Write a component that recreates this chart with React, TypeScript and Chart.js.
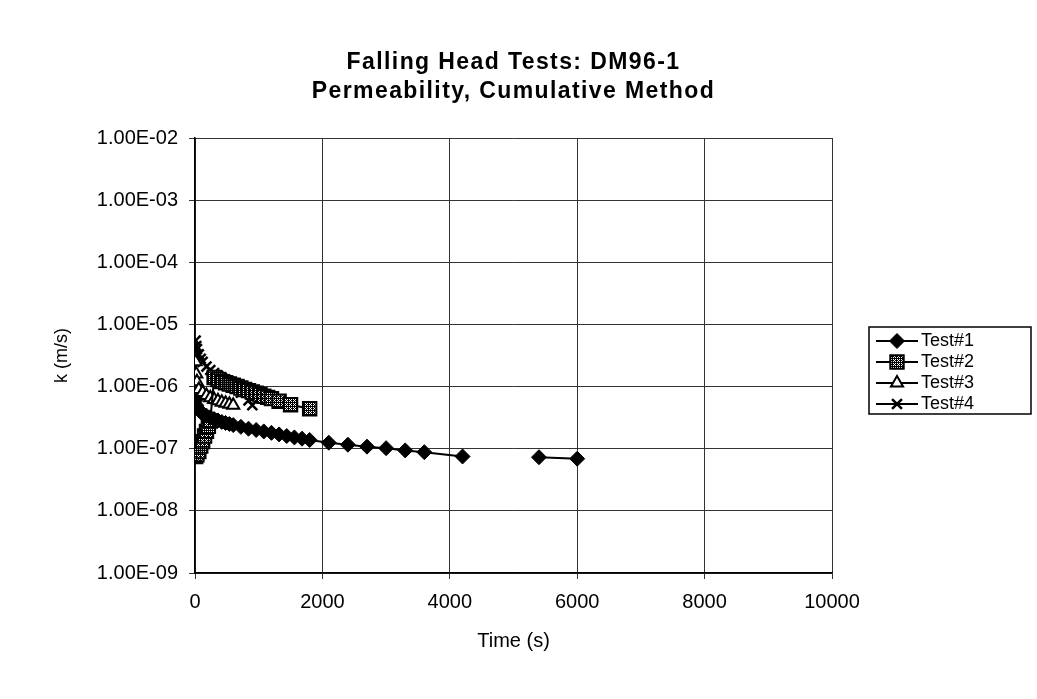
import React, { useEffect, useRef } from 'react';
import { Chart, registerables } from 'chart.js';

Chart.register(...registerables);

const TITLE_LINES = ['Falling Head Tests: DM96-1', 'Permeability, Cumulative Method'];
const X_TITLE = 'Time (s)';
const Y_TITLE = 'k (m/s)';
const X_TICKS = [0, 2000, 4000, 6000, 8000, 10000];
const Y_TICKS = [1e-9, 1e-8, 1e-7, 1e-6, 1e-5, 1e-4, 1e-3, 1e-2];
const SERIES_NAMES = ['Test#1', 'Test#2', 'Test#3', 'Test#4'];

const TEST1_T = [10, 20, 30, 60, 90, 120, 180, 240, 300, 360, 420, 480, 540, 600, 720, 840, 960, 1080, 1200, 1320, 1440, 1560, 1680, 1800, 2100, 2400, 2700, 3000, 3300, 3600, 4200, 4800, 5400, 6000];
const TEST1_K = [6e-7, 5e-7, 4.6e-7, 4.2e-7, 3.9e-7, 3.7e-7, 3.4e-7, 3.2e-7, 3.0e-7, 2.85e-7, 2.7e-7, 2.6e-7, 2.5e-7, 2.4e-7, 2.25e-7, 2.1e-7, 2.0e-7, 1.9e-7, 1.8e-7, 1.7e-7, 1.6e-7, 1.52e-7, 1.45e-7, 1.38e-7, 1.25e-7, 1.16e-7, 1.08e-7, 1.02e-7, 9.4e-8, 8.8e-8, 7.5e-8, null, 7.3e-8, 6.9e-8];

const TEST2_T = [10, 30, 60, 90, 120, 150, 180, 210, 240, 300, 360, 420, 480, 540, 600, 660, 720, 780, 840, 900, 960, 1020, 1080, 1140, 1200, 1320, 1500, 1800];
const TEST2_K = [7.5e-8, 8e-8, 9e-8, 1.1e-7, 1.3e-7, 1.6e-7, 1.9e-7, 2.3e-7, 2.8e-7, 1.4e-6, 1.3e-6, 1.2e-6, 1.15e-6, 1.1e-6, 1.05e-6, 1.0e-6, 9.5e-7, 9e-7, 8.6e-7, 8.2e-7, 7.8e-7, 7.4e-7, 7.0e-7, 6.7e-7, 6.4e-7, 5.8e-7, 5.1e-7, 4.4e-7];

const TEST3_T = [10, 20, 30, 60, 120, 180, 240, 300, 360, 420, 480, 540, 600];
const TEST3_K = [2.5e-6, 1.6e-6, 1.2e-6, 9e-7, 8e-7, 7.2e-7, 6.6e-7, 6.2e-7, 5.9e-7, 5.6e-7, 5.4e-7, 5.2e-7, 5.0e-7];

const TEST4_T = [10, 20, 30, 60, 90, 120, 180, 240, 300, 360, 420, 480, 540, 600, 720, 840, 900];
const TEST4_K = [5.5e-6, 4.5e-6, 4e-6, 3.3e-6, 2.8e-6, 2.5e-6, 2.1e-6, 1.85e-6, 1.65e-6, 1.5e-6, 1.4e-6, 1.3e-6, 1.2e-6, 1.0e-6, 8e-7, 6e-7, 5e-7];

const FONT = 'Arial, "Liberation Sans", sans-serif';

function makePattern(): CanvasPattern | string {
  const c = document.createElement('canvas');
  c.width = 4;
  c.height = 4;
  const g = c.getContext('2d');
  if (!g) return '#666';
  g.fillStyle = '#000';
  g.fillRect(0, 0, 4, 4);
  g.fillStyle = '#fff';
  g.fillRect(1, 1, 1, 1);
  g.fillRect(3, 3, 1, 1);
  g.fillRect(3, 1, 1, 1);
  g.fillRect(1, 3, 1, 1);
  g.fillRect(2, 0, 1, 1);
  const p = g.createPattern(c, 'repeat');
  return p || '#666';
}

function fmtExp(v: number): string {
  const e = Math.round(Math.log10(v));
  const sign = e < 0 ? '-' : '+';
  const a = Math.abs(e);
  return '1.00E' + sign + (a < 10 ? '0' + a : String(a));
}

function toPoints(t: number[], k: (number | null)[]) {
  return t.map((x, i) => ({ x, y: k[i] }));
}

function drawMarker(ctx: CanvasRenderingContext2D, style: string, r: number, bg: any, bw: number, x: number, y: number) {
  ctx.save();
  ctx.strokeStyle = '#000';
  ctx.fillStyle = bg;
  ctx.lineWidth = bw;
  ctx.beginPath();
  if (style === 'rectRot') {
    ctx.moveTo(x - r, y);
    ctx.lineTo(x, y - r);
    ctx.lineTo(x + r, y);
    ctx.lineTo(x, y + r);
    ctx.closePath();
    ctx.fill();
    ctx.stroke();
  } else if (style === 'rect') {
    const s = r * Math.SQRT1_2;
    ctx.rect(x - s, y - s, 2 * s, 2 * s);
    ctx.fill();
    ctx.stroke();
  } else if (style === 'triangle') {
    const h = r * 1.5;
    ctx.moveTo(x - r * 0.866, y + r * 0.5);
    ctx.lineTo(x, y - r);
    ctx.lineTo(x + r * 0.866, y + r * 0.5);
    ctx.closePath();
    ctx.fill();
    ctx.stroke();
    void h;
  } else {
    const d = r * Math.SQRT1_2;
    ctx.moveTo(x - d, y - d);
    ctx.lineTo(x + d, y + d);
    ctx.moveTo(x + d, y - d);
    ctx.lineTo(x - d, y + d);
    ctx.stroke();
  }
  ctx.restore();
}

export default function App() {
  const ref = useRef<HTMLCanvasElement | null>(null);

  useEffect(() => {
    const canvas = ref.current;
    if (!canvas) return;
    const pattern = makePattern();

    const styles = [
      { pointStyle: 'rectRot', radius: 7.5, bg: '#000', bw: 1 },
      { pointStyle: 'rect', radius: 9.5, bg: pattern, bw: 2 },
      { pointStyle: 'triangle', radius: 7, bg: '#fff', bw: 2 },
      { pointStyle: 'crossRot', radius: 7, bg: '#000', bw: 2.5 },
    ];
    const series = [
      toPoints(TEST1_T, TEST1_K),
      toPoints(TEST2_T, TEST2_K),
      toPoints(TEST3_T, TEST3_K),
      toPoints(TEST4_T, TEST4_K),
    ];

    const datasets = SERIES_NAMES.map((name, i) => ({
      label: name,
      data: series[i],
      borderColor: '#000',
      borderWidth: 2,
      backgroundColor: styles[i].bg,
      pointStyle: styles[i].pointStyle,
      pointRadius: styles[i].radius,
      pointBackgroundColor: styles[i].bg,
      pointBorderColor: '#000',
      pointBorderWidth: styles[i].bw,
      spanGaps: false,
      tension: 0,
    }));

    const titlePlugin = {
      id: 'customTitle',
      afterDraw(chart: any) {
        const ctx = chart.ctx as CanvasRenderingContext2D;
        const ca = chart.chartArea;
        ctx.save();
        ctx.fillStyle = '#000';
        ctx.font = 'bold 23px ' + FONT;
        (ctx as any).letterSpacing = '1.4px';
        ctx.textAlign = 'center';
        ctx.textBaseline = 'middle';
        const cx = (ca.left + ca.right) / 2;
        ctx.fillText(TITLE_LINES[0], cx, 63);
        ctx.fillText(TITLE_LINES[1], cx, 92);
        ctx.restore();
      },
    };

    const legendPlugin = {
      id: 'customLegend',
      afterDraw(chart: any) {
        const ctx = chart.ctx as CanvasRenderingContext2D;
        const ca = chart.chartArea;
        const left = ca.right + 37;
        const right = 1031;
        const rowH = 21;
        const top = 327;
        const n = chart.data.datasets.length;
        ctx.save();
        ctx.strokeStyle = '#000';
        ctx.lineWidth = 1.5;
        ctx.strokeRect(left, top, right - left, 14 + rowH * (n - 1) + 10);
        ctx.font = '18px ' + FONT;
        ctx.textBaseline = 'middle';
        ctx.textAlign = 'left';
        chart.data.datasets.forEach((ds: any, i: number) => {
          const y = top + 14 + rowH * i;
          ctx.strokeStyle = '#000';
          ctx.lineWidth = 2;
          ctx.beginPath();
          ctx.moveTo(left + 7, y);
          ctx.lineTo(left + 49, y);
          ctx.stroke();
          const st = styles[i];
          drawMarker(ctx, st.pointStyle, st.radius, st.bg, st.bw, left + 28, y);
          ctx.fillStyle = '#000';
          ctx.fillText(ds.label, left + 52, y);
        });
        ctx.restore();
      },
    };

    const chart = new Chart(canvas, {
      type: 'line',
      data: { datasets: datasets as any },
      plugins: [titlePlugin, legendPlugin],
      options: {
        responsive: false,
        animation: false,
        devicePixelRatio: 1,
        layout: { padding: { left: 0, right: 205, top: 138, bottom: 0 } },
        plugins: {
          legend: { display: false },
          title: { display: false },
          tooltip: { enabled: false },
        },
        scales: {
          x: {
            type: 'linear',
            min: 0,
            max: 10000,
            afterBuildTicks: (s: any) => {
              s.ticks = X_TICKS.map((v) => ({ value: v }));
            },
            afterFit: (s: any) => {
              s.height = 126;
            },
            grid: { color: '#333', lineWidth: 1, tickLength: 6, drawTicks: true },
            border: { color: '#000', width: 1.5 },
            ticks: {
              color: '#000',
              font: { family: FONT, size: 20 },
              padding: 11,
              maxRotation: 0,
              autoSkip: false,
              callback: (v: any) => String(v),
            },
            title: {
              display: true,
              text: X_TITLE,
              color: '#000',
              font: { family: FONT, size: 20 },
              padding: { top: 0, bottom: 46 },
            },
          },
          y: {
            type: 'logarithmic',
            min: 1e-9,
            max: 1e-2,
            afterBuildTicks: (s: any) => {
              s.ticks = Y_TICKS.map((v) => ({ value: v }));
            },
            afterFit: (s: any) => {
              s.width = 195;
            },
            grid: { color: '#333', lineWidth: 1, tickLength: 6, drawTicks: true },
            border: { color: '#000', width: 1.5 },
            ticks: {
              color: '#000',
              font: { family: FONT, size: 20 },
              padding: 11,
              autoSkip: false,
              callback: (v: any) => fmtExp(Number(v)),
            },
            title: {
              display: true,
              text: Y_TITLE,
              color: '#000',
              font: { family: FONT, size: 18 },
              padding: { top: 51, bottom: 0 },
            },
          },
        },
      },
    });

    return () => chart.destroy();
  }, []);

  return (
    <div style={{ position: 'fixed', left: 0, top: 0, width: 1037, height: 699, background: '#fff' }}>
      <canvas ref={ref} width={1037} height={699} style={{ display: 'block', width: 1037, height: 699 }} />
    </div>
  );
}
